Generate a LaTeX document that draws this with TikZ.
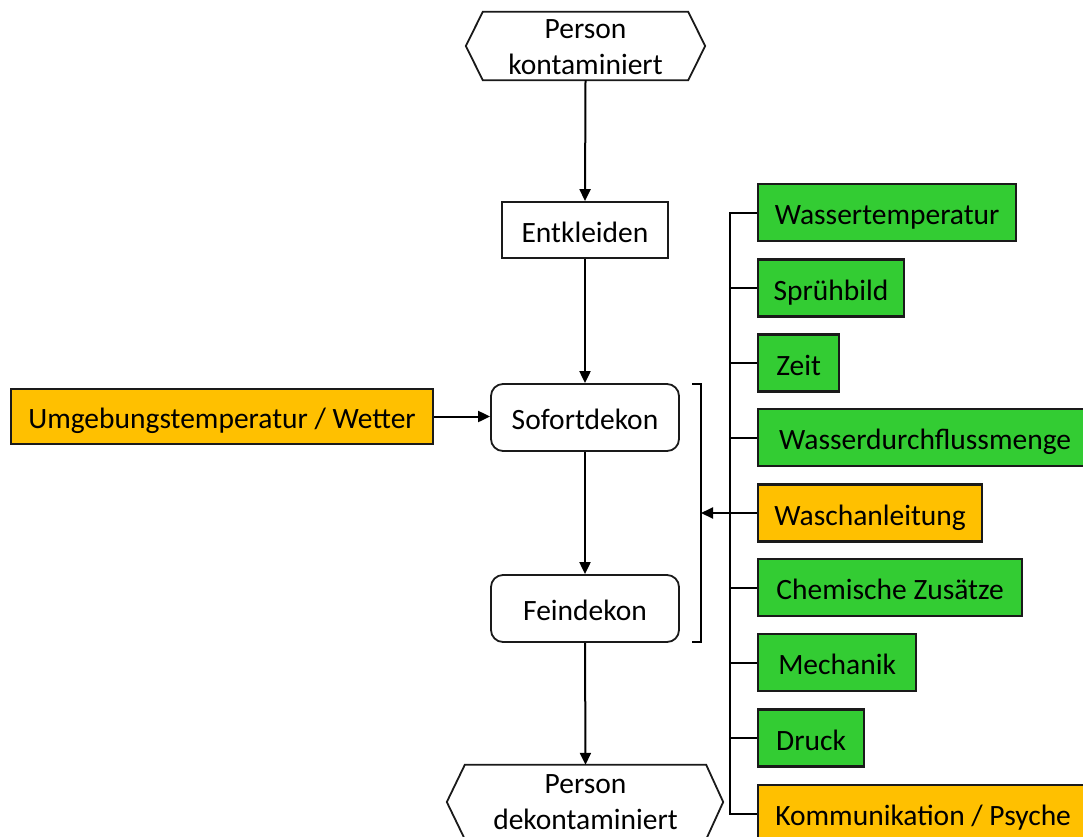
\documentclass[tikz,border=0pt]{standalone}
\usepackage{fontspec}
\setmainfont{Carlito}
\usetikzlibrary{arrows.meta}
\definecolor{boxgreen}{HTML}{33CC33}
\definecolor{boxorange}{HTML}{FFC000}
\definecolor{edge}{HTML}{1A1A1A}
\tikzset{
  base/.style={inner sep=0pt, align=center, font=\fontsize{29.5}{36}\selectfont, text=black},
  hexnode/.style={base},
  oneline/.style={base, text height=25pt, text depth=1pt},
  plainbox/.style={oneline, draw=edge, line width=1.8pt, fill=white},
  roundbox/.style={plainbox, rounded corners=12pt},
  greenbox/.style={oneline, draw=edge, line width=2.2pt, fill=boxgreen, anchor=west, minimum height=57pt},
  orangebox/.style={oneline, draw=edge, line width=2.2pt, fill=boxorange, minimum height=57pt},
  flow/.style={draw=black, line width=2pt, -{Triangle[length=12pt,width=11pt]}},
  link/.style={draw=black, line width=2pt},
  hexline/.style={draw=edge, line width=1.8pt}
}
\begin{document}
\begin{tikzpicture}[x=1pt,y=-1pt]
\useasboundingbox (0,0) rectangle (1083,836);
\clip (0,0) rectangle (1083,836);
\fill[white] (0,0) rectangle (1083,836);

% hexagons
\node[hexnode, minimum width=205pt, minimum height=68pt] (start) at (585.5,47) {Person\\kontaminiert};
\draw[hexline] ([yshift=1pt]start.north west) -- ([yshift=1pt]start.north east) -- ([xshift=17pt,yshift=1pt]start.east) -- ([yshift=1pt]start.south east) -- ([yshift=1pt]start.south west) -- ([xshift=-17pt,yshift=1pt]start.west) -- cycle;

\node[hexnode, minimum width=241pt, minimum height=74pt] (ende) at (585.5,802) {Person\\dekontaminiert};
\draw[hexline] (ende.north west) -- (ende.north east) -- ([xshift=17pt]ende.east) -- (ende.south east) -- (ende.south west) -- ([xshift=-18pt]ende.west) -- cycle;

% main column
\node[plainbox, minimum width=166pt, minimum height=56pt] (entk) at (585,230) {Entkleiden};
\node[roundbox, minimum width=188pt, minimum height=67pt] (sofort) at (585,417.5) {Sofortdekon};
\node[roundbox, minimum width=188pt, minimum height=67pt] (fein) at (585,608.5) {Feindekon};

\draw[flow] ([yshift=1pt]start.south) -- (entk.north);
\draw[flow] (entk.south) -- (sofort.north);
\draw[flow] (sofort.south) -- (fein.north);
\draw[flow] (fein.south) -- (ende.north);

% left input
\node[orangebox, minimum width=422pt, minimum height=55pt] (umg) at (222,416.5) {Umgebungstemperatur / Wetter};
\draw[flow] (umg.east) -- (umg.east -| sofort.west);

% right factors
\node[greenbox, minimum width=258pt] (wt) at (757,212.5) {Wassertemperatur};
\node[greenbox, minimum width=146pt] (sb) at (757,288) {Sprühbild};
\node[greenbox, minimum width=81pt] (zeit) at (757,363) {Zeit};
\node[greenbox, minimum width=334pt] (wdm) at (757,437.5) {Wasserdurchflussmenge};
\node[orangebox, anchor=west, minimum width=224pt] (wa) at (757,513) {Waschanleitung};
\node[greenbox, minimum width=264pt] (chem) at (757,587.5) {Chemische Zusätze};
\node[greenbox, minimum width=158pt] (mech) at (757,662.5) {Mechanik};
\node[greenbox, minimum width=106pt] (druck) at (757,738) {Druck};
\node[orangebox, anchor=west, minimum width=330pt] (komm) at (757,813.5) {Kommunikation / Psyche};

% spine
\draw[link] (wt.west) -- ++(-27pt,0) |- (komm.west);
\foreach \n in {sb,zeit,wdm,chem,mech,druck}{
  \draw[link] (\n.west) -- ++(-27pt,0);
}

% bracket
\coordinate (bt) at (692,384);
\coordinate (bb) at (692,642);
\coordinate (bm) at (701,513);
\draw[link] (bt) -- ++(9pt,0) |- (bb);
\draw[flow] (wa.west) -- (bm);
\end{tikzpicture}
\end{document}
